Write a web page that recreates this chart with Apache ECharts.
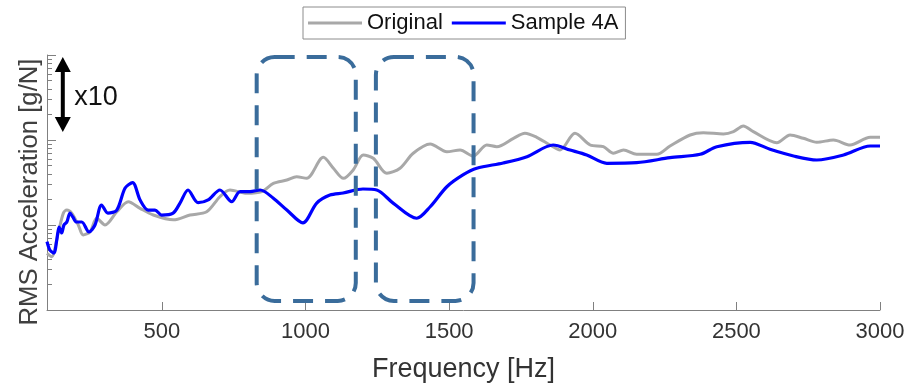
<!DOCTYPE html>
<html>
<head>
<meta charset="utf-8">
<script src="https://cdn.jsdelivr.net/npm/echarts@6/dist/echarts.min.js"></script>
<style>html,body{margin:0;padding:0;background:#fff}#c{width:912px;height:385px}</style>
</head>
<body>
<div id="c"></div>
<script>
// Frequency [Hz]
const originalHz = [100,116,139,157,169,186,209,226,250,273,302,343,383,424,470,540,598,656,702,737,795,848,888,935,969,1004,1062,1097,1132,1166,1201,1236,1283,1329,1375,1434,1492,1538,1584,1631,1666,1724,1764,1805,1851,1886,1938,1991,2037,2072,2107,2153,2223,2269,2339,2385,2455,2490,2524,2559,2641,2687,2733,2780,2838,2896,2966,3000];
const originalVal = [4.65,4.24,8.05,13.8,15.0,13.8,10.0,7.63,8.34,12.0,10.0,14.3,18.8,15.7,13.1,11.5,13.1,14.3,21.5,25.8,23.6,24.7,30.9,33.8,37.0,35.4,62.6,46.5,35.4,44.4,66.6,60.9,40.6,46.5,69.8,89.7,72.8,76.3,64.8,87.3,83.4,104.7,120,107.6,87.3,76.3,120,87.3,83.4,69.8,76.3,67.9,67.9,85.0,114.5,121.9,117.7,125.2,146.1,125.2,92.9,114.5,104.7,94.0,100,87.3,107.6,107.6];
const sampleHz = [100,110,124,134,142,151,159,169,180,190,203,221,246,267,290,312,343,372,398,424,452,476,499,539,563,591,626,661,702,743,772,807,842,887,935,991,1039,1085,1131,1200,1248,1305,1387,1434,1492,1548,1596,1688,1771,1862,1921,1979,2049,2153,2269,2374,2432,2548,2617,2699,2780,2873,2966,3000];
const sampleVal = [6.36,5.08,4.68,6.66,9.47,8.05,10.0,10.85,13.8,12.4,10.85,10.85,8.27,10.0,17.2,13.8,15.0,27.2,31.5,19.7,15.0,15.0,13.1,13.8,18.1,25.8,18.3,19.7,25.8,18.8,24.7,24.7,25.8,20.8,15.0,10.6,18.1,22.5,23.8,26.5,25.8,18.1,12.0,16.4,28.2,38.8,46.5,53.6,63.6,87.3,76.3,66.6,53.2,54.1,61.9,67.9,83.4,94.0,77.7,64.8,58.2,66.6,85.0,85.0];
const xTicks = [500,1000,1500,2000,2500,3000];
const yMajor = [1,10,100,1000];
const yMinor = [2,3,4,5,6,7,8,9,20,30,40,50,60,70,80,90,200,300,400,500,600,700,800,900];
// annotation anchors (data units)
const boxesHz = [[830,1175],[1245,1585]];
const boxVal = [1.28,950];
const arrowHz = 155;
const arrowVal = [124,945];
const labelAnchor = [195,321];

const chart = echarts.init(document.getElementById('c'));
const axisColor = '#808080';
const font = 'Liberation Sans';
chart.setOption({
  animation:false,
  grid:{left:47,right:32,top:55,bottom:75,outerBoundsMode:'none',containLabel:false},
  legend:{
    top:7,left:303,
    data:['Original','Sample 4A'],
    icon:'rect',
    borderColor:'#8c8c8c',borderWidth:1,borderRadius:0,
    padding:[5,7,5,5],
    itemWidth:54,itemHeight:3,itemGap:9,
    textStyle:{fontFamily:font,fontSize:22,color:'#111'}
  },
  xAxis:{
    type:'value',min:100,max:3000,
    axisLine:{lineStyle:{color:axisColor,width:1}},
    axisTick:{inside:true,length:8,lineStyle:{color:axisColor},customValues:xTicks},
    axisLabel:{customValues:xTicks,fontFamily:font,fontSize:22,color:'#333',margin:11,formatter:v=>String(v)},
    splitLine:{show:false},
    name:'Frequency [Hz]',nameLocation:'middle',nameGap:46,
    nameTextStyle:{fontFamily:font,fontSize:27,color:'#333'}
  },
  yAxis:[{
    type:'log',logBase:10,min:1,max:1000,
    axisLine:{show:true,lineStyle:{color:axisColor,width:1}},
    axisTick:{show:true,inside:true,length:9,lineStyle:{color:axisColor},customValues:yMajor},
    axisLabel:{show:false},
    splitLine:{show:false}
  },{
    type:'log',logBase:10,min:1,max:1000,position:'left',
    axisLine:{show:false},
    axisTick:{show:true,inside:true,length:5,lineStyle:{color:axisColor},customValues:yMinor},
    axisLabel:{show:false},
    splitLine:{show:false}
  }],
  series:[{
    name:'Original',type:'line',symbol:'none',smooth:0.3,
    data:originalHz.map((h,i)=>[h,originalVal[i]]),
    lineStyle:{color:'#a8a8a8',width:3},itemStyle:{color:'#a8a8a8'}
  },{
    name:'Sample 4A',type:'line',symbol:'none',smooth:0.3,
    data:sampleHz.map((h,i)=>[h,sampleVal[i]]),
    lineStyle:{color:'#0000ff',width:3.2},itemStyle:{color:'#0000ff'}
  }]
});

function px(h,v){return chart.convertToPixel({gridIndex:0},[h,v]);}
const g = [];
boxesHz.forEach(b=>{
  const p1 = px(b[0],boxVal[1]), p2 = px(b[1],boxVal[0]);
  g.push({type:'rect',shape:{x:p1[0],y:p1[1],width:p2[0]-p1[0],height:p2[1]-p1[1],r:18},
    style:{fill:'none',stroke:'#3a6c9b',lineWidth:4,lineDash:[20,12]},z:100});
});
const a1 = px(arrowHz,arrowVal[1]), a2 = px(arrowHz,arrowVal[0]);
const hw = 8, hh = 15;
g.push({type:'line',shape:{x1:a1[0],y1:a1[1]+hh-2,x2:a2[0],y2:a2[1]-hh+2},style:{stroke:'#000',lineWidth:4},z:100});
g.push({type:'polygon',shape:{points:[[a1[0],a1[1]],[a1[0]-hw,a1[1]+hh],[a1[0]+hw,a1[1]+hh]]},style:{fill:'#000'},z:100});
g.push({type:'polygon',shape:{points:[[a2[0],a2[1]],[a2[0]-hw,a2[1]-hh],[a2[0]+hw,a2[1]-hh]]},style:{fill:'#000'},z:100});
const lp = px(labelAnchor[0],labelAnchor[1]);
g.push({type:'text',x:lp[0],y:lp[1]+1,style:{text:'x10',fontFamily:font,fontSize:27,fill:'#111',align:'left',verticalAlign:'middle'},z:100});
g.push({type:'text',x:30,y:192,rotation:Math.PI/2,style:{text:'RMS Acceleration [g/N]',fontFamily:font,fontSize:25.7,fill:'#404040',align:'center',verticalAlign:'middle'},z:100});
chart.setOption({graphic:g});
</script>
</body>
</html>
